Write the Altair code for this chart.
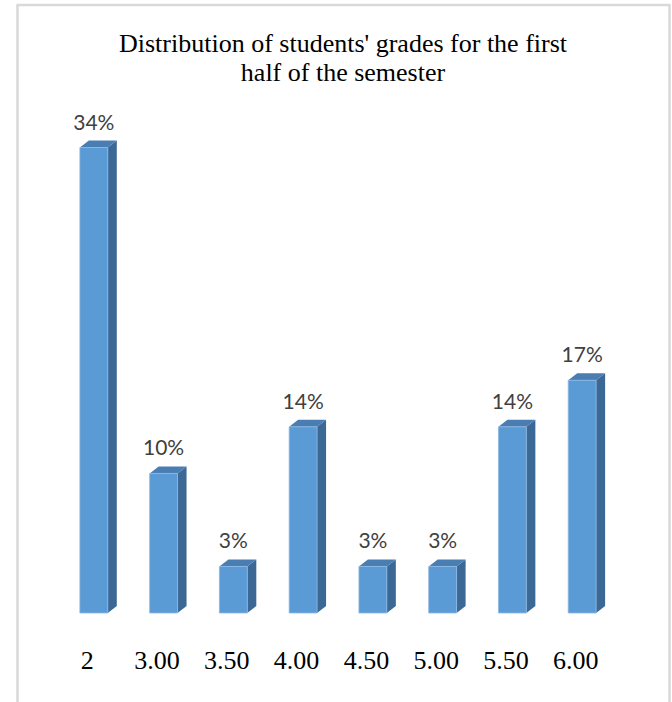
import altair as alt
import pandas as pd

# ---- data ----
categories = ["2", "3.00", "3.50", "4.00", "4.50", "5.00", "5.50", "6.00"]
values = [34.48, 10.34, 3.45, 13.79, 3.45, 3.45, 13.79, 17.24]   # percent
labels = ["34%", "10%", "3%", "14%", "3%", "3%", "14%", "17%"]
title_lines = ["Distribution of students' grades for the first", "half of the semester"]

# ---- style constants (3-D look) ----
HALF = 0.2      # half width of bar front, in category units
DX = 0.129      # depth, category units
DY = 0.52       # depth, percent units
FRONT = "#5B9BD5"
SIDE = "#3B6894"
TOP = "#4A7DB2"
FRAME = "#D9D9D9"

idx = list(range(len(categories)))
front = pd.DataFrame({"i": idx, "v": values, "cat": categories, "label": labels})
front["xl"] = front["i"] - HALF
front["xr"] = front["i"] + HALF

side_rows, top_rows = [], []
for i, v in zip(idx, values):
    xl, xr = i - HALF, i + HALF
    side_rows += [
        {"bar": i, "x": xr, "y": 0.0, "y2": v},
        {"bar": i, "x": xr + DX, "y": DY, "y2": v + DY},
    ]
    top_rows += [
        {"bar": i, "x": xl, "y": v, "y2": v},
        {"bar": i, "x": xl + DX, "y": v, "y2": v + DY},
        {"bar": i, "x": xr, "y": v, "y2": v + DY},
        {"bar": i, "x": xr + DX, "y": v + DY, "y2": v + DY},
    ]
side = pd.DataFrame(side_rows)
top = pd.DataFrame(top_rows)

xscale = alt.Scale(domain=[-0.7, 7.7], nice=False, zero=False)
yscale = alt.Scale(domain=[0, 40], nice=False, zero=True)

label_expr = "[" + ",".join("'" + c + "'" for c in categories) + "][datum.value]"

x_axis = alt.Axis(
    values=idx, labelExpr=label_expr, domain=False, ticks=False, tickSize=0,
    grid=False, title=None, labelAngle=0, labelPadding=55,
    labelBaseline="alphabetic", labelFont="Liberation Serif", labelFontSize=26,
    labelColor="black", labelOffset=-7, labelFlush=False, labelOverlap=False,
)

side_layer = alt.Chart(side).mark_area(color=SIDE, interpolate="linear").encode(
    x=alt.X("x:Q", scale=xscale, axis=x_axis),
    y=alt.Y("y:Q", scale=yscale, axis=None),
    y2="y2:Q",
    detail="bar:N",
)
top_layer = alt.Chart(top).mark_area(color=TOP, interpolate="linear").encode(
    x=alt.X("x:Q", scale=xscale, axis=x_axis),
    y=alt.Y("y:Q", scale=yscale, axis=None),
    y2="y2:Q",
    detail="bar:N",
)
front_layer = alt.Chart(front).mark_rect(
    color=FRONT, stroke="#8DB8E4", strokeWidth=0.8
).encode(
    x=alt.X("xl:Q", scale=xscale, axis=x_axis),
    x2="xr:Q",
    y=alt.Y("v:Q", scale=yscale, axis=None),
    y2=alt.datum(0),
)
text_layer = alt.Chart(front).mark_text(
    dy=-18, baseline="alphabetic", font="Lato", fontSize=21, color="#404040"
).encode(
    x=alt.X("i:Q", scale=xscale, axis=x_axis),
    y=alt.Y("v:Q", scale=yscale, axis=None),
    text="label:N",
)

one = alt.Data(values=[{"k": 1}])
frame_left = alt.Chart(one).mark_rule(color=FRAME, strokeWidth=2.5).encode(
    x=alt.value(-27.5), y=alt.value(-68), y2=alt.value(700)
)
frame_top = alt.Chart(one).mark_rule(color=FRAME, strokeWidth=2.5).encode(
    x=alt.value(-28.5), x2=alt.value(625.5), y=alt.value(-68)
)
frame_right = alt.Chart(one).mark_rule(color=FRAME, strokeWidth=2.5).encode(
    x=alt.value(624.5), y=alt.value(-68), y2=alt.value(700)
)

chart = alt.layer(
    side_layer, top_layer, front_layer, text_layer,
    frame_left, frame_top, frame_right,
).properties(
    width=586,
    height=540,
    padding={"left": 45, "top": 73, "right": 41, "bottom": 89},
    autosize=alt.AutoSizeParams(type="none"),
    background="white",
    title=alt.TitleParams(
        text=title_lines, font="Liberation Serif", fontSize=26,
        fontWeight="normal", color="black", anchor="middle", frame="group",
        dx=5, lineHeight=29, offset=-82.5,
    ),
).configure_view(strokeWidth=0)

chart.save("out.html", embed_options={"renderer": "svg", "actions": False})
